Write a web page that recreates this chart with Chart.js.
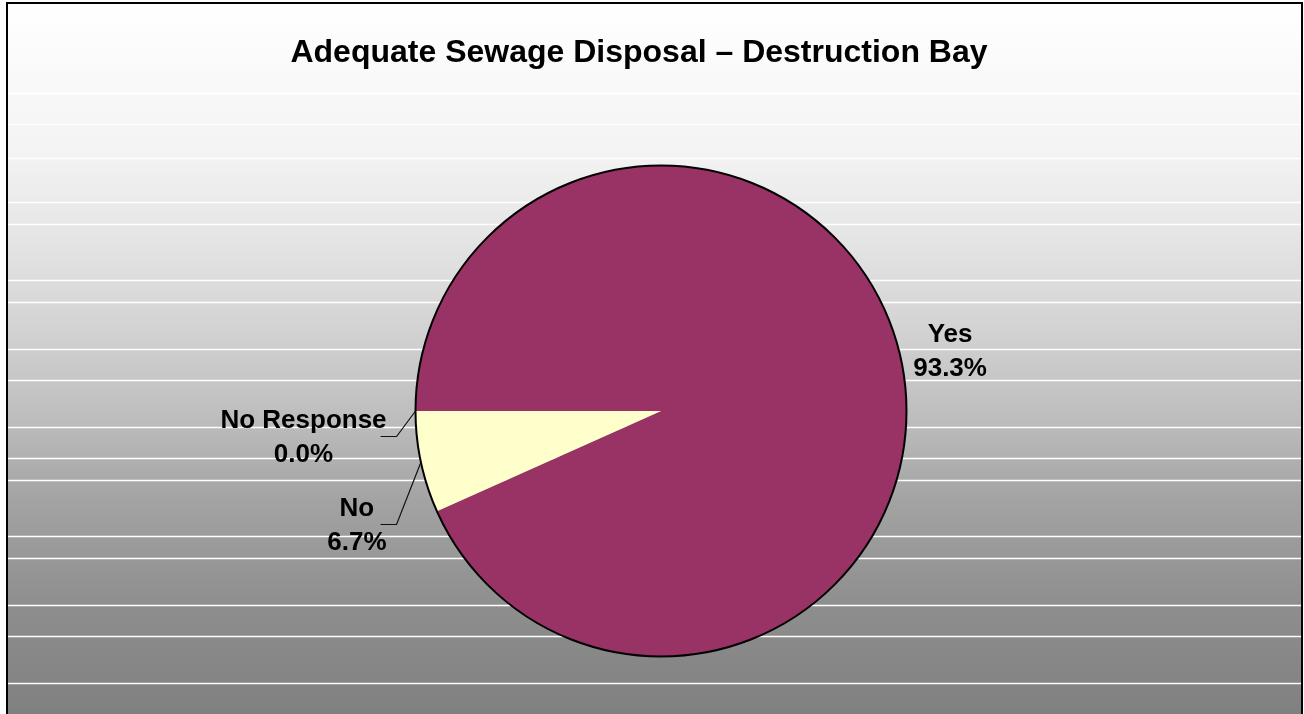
<!DOCTYPE html>
<html>
<head>
<meta charset="utf-8">
<title>Adequate Sewage Disposal – Destruction Bay</title>
<script src="https://cdn.jsdelivr.net/npm/chart.js@4"></script>
<style>
  html, body { margin: 0; padding: 0; background: #ffffff; }
  #wrap { width: 1304px; height: 714px; }
  canvas { display: block; }
</style>
</head>
<body>
<div id="wrap"><canvas id="chart" width="1304" height="714"></canvas></div>
<script>
// Survey answers and their shares (percent)
const categories = ['Yes', 'No', 'No Response'];
const shares = [93.3, 6.7, 0.0];
const sliceColors = ['#993366', '#FFFFCC', '#9999FF'];

const chartTitle = 'Adequate Sewage Disposal \u2013 Destruction Bay';

// Background styling: vertical grey gradient with thin white bands
const bgStops = [
  [0.00, '#ffffff'], [0.20, '#f4f4f4'], [0.33, '#e5e5e5'], [0.45, '#d4d4d4'],
  [0.58, '#bebebe'], [0.70, '#a3a3a3'], [0.85, '#8e8e8e'], [1.00, '#808080']
];
const bandLines = [93, 124, 158, 202, 224, 280, 302, 349, 380, 427, 458, 480, 536, 558, 605, 636, 683];

// Label placement relative to the slice's outer edge midpoint
const labelLayout = {
  'Yes':         { dx: 49,  dy: -8, leader: false },
  'No':          { dx: -64, dy: 64, leader: true },
  'No Response': { dx: -112, dy: 27, leader: true }
};

const FONT = '"Liberation Sans", Arial, Helvetica, sans-serif';

const backdrop = {
  id: 'backdrop',
  beforeDraw(chart) {
    const ctx = chart.ctx;
    const W = chart.width, H = chart.height;
    ctx.save();
    ctx.fillStyle = '#ffffff';
    ctx.fillRect(0, 0, W, H);
    const g = ctx.createLinearGradient(0, 3, 0, H);
    bgStops.forEach(s => g.addColorStop(s[0], s[1]));
    ctx.fillStyle = g;
    ctx.fillRect(8, 4, 1293, H);
    ctx.strokeStyle = '#ffffff';
    ctx.lineWidth = 1.5;
    bandLines.forEach(y => {
      ctx.beginPath();
      ctx.moveTo(8, y + 0.5);
      ctx.lineTo(1301, y + 0.5);
      ctx.stroke();
    });
    // frame
    ctx.strokeStyle = '#000000';
    ctx.lineWidth = 2;
    ctx.strokeRect(7, 3, 1295, H + 10);
    // title
    ctx.fillStyle = '#000000';
    ctx.font = 'bold 32px ' + FONT;
    ctx.textAlign = 'center';
    ctx.textBaseline = 'middle';
    ctx.fillText(chartTitle, 639, 53);
    ctx.restore();
  }
};

const pieDecor = {
  id: 'pieDecor',
  afterDatasetsDraw(chart) {
    const ctx = chart.ctx;
    const meta = chart.getDatasetMeta(0);
    const first = meta.data[0];
    const cx = first.x, cy = first.y, r = first.outerRadius;
    ctx.save();
    // outer outline of the pie
    ctx.strokeStyle = '#000000';
    ctx.lineWidth = 2;
    ctx.beginPath();
    ctx.arc(cx, cy, r, 0, Math.PI * 2);
    ctx.stroke();

    ctx.font = 'bold 26px ' + FONT;
    ctx.textAlign = 'center';
    ctx.textBaseline = 'middle';
    ctx.fillStyle = '#000000';
    meta.data.forEach((arc, i) => {
      const name = categories[i];
      const lay = labelLayout[name];
      const mid = (arc.startAngle + arc.endAngle) / 2;
      const ex = cx + r * Math.cos(mid);
      const ey = cy + r * Math.sin(mid);
      const lx = ex + lay.dx, ly = ey + lay.dy;
      const lines = [name, shares[i].toFixed(1) + '%'];
      ctx.fillText(lines[0], lx, ly - 17);
      ctx.fillText(lines[1], lx, ly + 17);
      if (lay.leader) {
        const half = Math.max(...lines.map(t => ctx.measureText(t).width)) / 2;
        const sx = lx + half - 6;
        const hy = Math.round(ly) - 1.5;
        ctx.strokeStyle = '#111111';
        ctx.lineWidth = 1.2;
        ctx.beginPath();
        ctx.moveTo(sx, hy);
        ctx.lineTo(sx + 16, hy);
        ctx.lineTo(ex, ey);
        ctx.stroke();
      }
    });
    ctx.restore();
  }
};

new Chart(document.getElementById('chart'), {
  type: 'pie',
  data: {
    labels: categories,
    datasets: [{
      data: shares,
      backgroundColor: sliceColors,
      borderWidth: 0
    }]
  },
  options: {
    responsive: false,
    animation: false,
    rotation: 270,
    layout: { padding: { left: 18, right: 0, top: 165.5, bottom: 57.5 } },
    plugins: {
      legend: { display: false },
      title: { display: false },
      tooltip: { enabled: false }
    }
  },
  plugins: [backdrop, pieDecor]
});
</script>
</body>
</html>
